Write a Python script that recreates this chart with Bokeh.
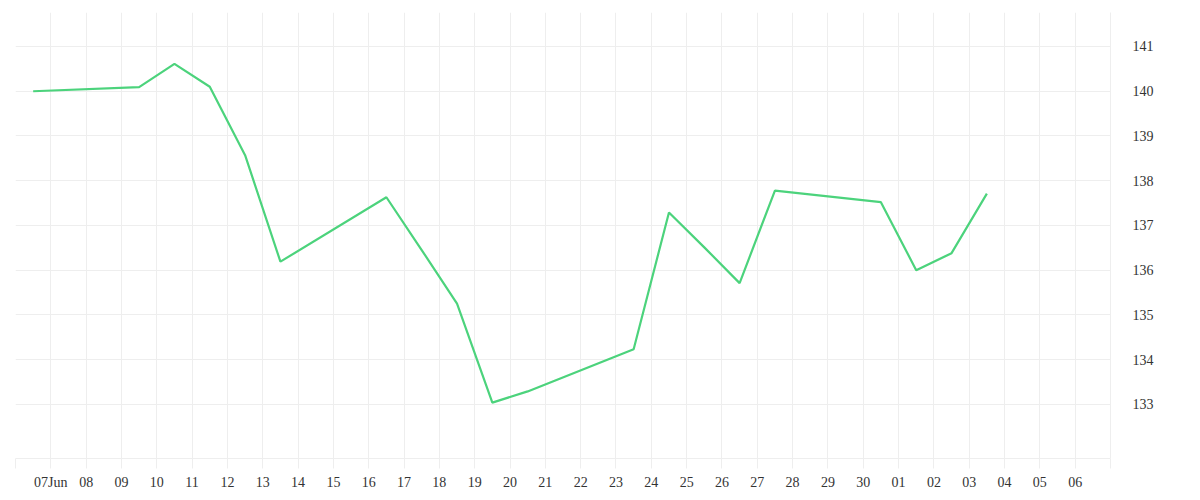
import pandas as pd
from bokeh.plotting import figure
from bokeh.models import Range1d, FixedTicker, CustomJSTickFormatter, LinearAxis, ColumnDataSource
from bokeh.embed import file_html
from bokeh.resources import INLINE

# ---- data ----
timestamps = [
    "2019-06-06 12:00", "2019-06-09 12:00", "2019-06-10 12:00", "2019-06-11 12:00",
    "2019-06-12 12:00", "2019-06-13 12:00", "2019-06-16 12:00", "2019-06-17 12:00",
    "2019-06-18 12:00", "2019-06-19 12:00", "2019-06-20 12:00", "2019-06-23 12:00",
    "2019-06-24 12:00", "2019-06-25 12:00", "2019-06-26 12:00", "2019-06-27 12:00",
    "2019-06-30 12:00", "2019-07-01 12:00", "2019-07-02 12:00", "2019-07-03 12:00",
]
values = [
    140.00, 140.09, 140.61, 140.10, 138.57, 136.19, 137.63, 136.45, 135.25, 133.04,
    133.29, 134.23, 137.29, 136.51, 135.71, 137.78, 137.52, 136.00, 136.38, 137.71,
]
axis_start = "2019-06-06"
axis_end = "2019-07-07"
y_ticks = [133, 134, 135, 136, 137, 138, 139, 140, 141]
y_min, y_max = 131.79, 141.76

x = pd.to_datetime(timestamps)
src = ColumnDataSource(data=dict(x=x, y=values))

start = pd.Timestamp(axis_start)
end = pd.Timestamp(axis_end)
day_ticks = pd.date_range(start, end, freq="D")
tick_ms = [t.value / 1e6 for t in day_ticks]

FONT = "Liberation Serif"
TEXT = "#333333"
GRID = "#eeeeee"

p = figure(
    frame_width=1095, frame_height=446,
    x_axis_type="datetime",
    x_range=Range1d(start, end), y_range=Range1d(y_min, y_max),
    output_backend="svg", toolbar_location=None,
    min_border_left=15, min_border_top=12, min_border_right=10, min_border_bottom=5,
    y_axis_location=None,
)
p.outline_line_color = None
p.background_fill_color = "white"
p.border_fill_color = "white"

p.line("x", "y", source=src, line_color="#4cd37c", line_width=2.2)

ticker = FixedTicker(ticks=tick_ms)
xa = p.xaxis[0]
xa.ticker = ticker
xa.formatter = CustomJSTickFormatter(code="""
    const months = ["Jan","Feb","Mar","Apr","May","Jun","Jul","Aug","Sep","Oct","Nov","Dec"];
    if (index == 0 || index == ticks.length - 1) { return ""; }
    const d = new Date(tick);
    const dd = String(d.getUTCDate()).padStart(2, "0");
    if (index == 1) { return dd + months[d.getUTCMonth()]; }
    return dd;
""")
xa.axis_line_color = GRID
xa.major_tick_line_color = GRID
xa.major_tick_out = 10
xa.major_tick_in = 0
xa.minor_tick_line_color = None
xa.major_label_text_font = FONT
xa.major_label_text_font_size = "14px"
xa.major_label_text_color = TEXT
xa.major_label_standoff = 6

ya = LinearAxis(ticker=FixedTicker(ticks=y_ticks))
ya.axis_line_color = GRID
ya.major_tick_line_color = None
ya.minor_tick_line_color = None
ya.major_label_text_font = FONT
ya.major_label_text_font_size = "14px"
ya.major_label_text_color = TEXT
ya.major_label_standoff = 16
p.add_layout(ya, "right")

p.xgrid.ticker = ticker
p.xgrid.grid_line_color = GRID
p.ygrid.ticker = FixedTicker(ticks=y_ticks)
p.ygrid.grid_line_color = GRID

open("out.html", "w").write(file_html(p, INLINE))
